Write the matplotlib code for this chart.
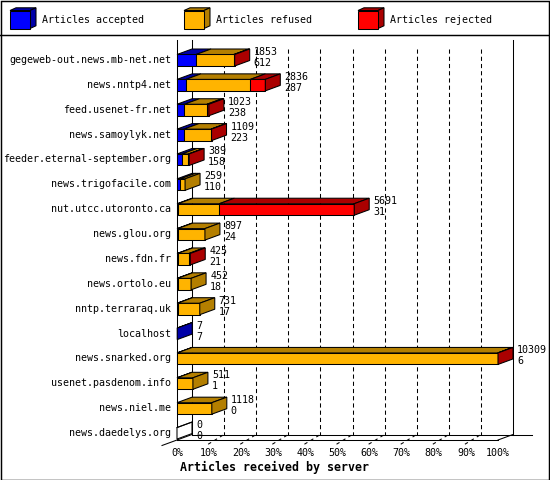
import numpy as np
import matplotlib
matplotlib.use("Agg")
import matplotlib.pyplot as plt
from matplotlib.patches import Polygon, Rectangle
from matplotlib.lines import Line2D

# Données : serveurs, total reçu, acceptés, refusés, rejetés
servers = ["gegeweb-out.news.mb-net.net", "news.nntp4.net", "feed.usenet-fr.net",
           "news.samoylyk.net", "feeder.eternal-september.org", "news.trigofacile.com",
           "nut.utcc.utoronto.ca", "news.glou.org", "news.fdn.fr", "news.ortolo.eu",
           "nntp.terraraq.uk", "localhost", "news.snarked.org", "usenet.pasdenom.info",
           "news.niel.me", "news.daedelys.org"]
total = [1853, 2836, 1023, 1109, 389, 259, 5691, 897, 425, 452, 731, 7, 10309, 511, 1118, 0]
accepted = [612, 287, 238, 223, 158, 110, 31, 24, 21, 18, 17, 7, 6, 1, 0, 0]
refused = [1211, 2069, 725, 869, 210, 149, 1327, 873, 364, 434, 714, 0, 10293, 510, 1118, 0]
rejected = [t - a - r for t, a, r in zip(total, accepted, refused)]
pct_ticks = [0, 10, 20, 30, 40, 50, 60, 70, 80, 90, 100]

series = ["Articles accepted", "Articles refused", "Articles rejected"]
fronts = ["#0000ff", "#ffb400", "#ff0000"]
darks = ["#0000a8", "#b47f00", "#aa0000"]

plt.rcParams["lines.scale_dashes"] = False
MONO = "DejaVu Sans Mono"
FS = 7.2
LW = 0.75

fig = plt.figure(figsize=(5.5, 4.8), dpi=100)
fig.patch.set_facecolor("white")

# axes = face avant du graphe : x de 0 à 100 %, y en rangs
ROW = 24.87
ax = fig.add_axes([177 / 550, 40 / 480, 321 / 550, 400 / 480])
ymin, ymax = (40 - 60) / ROW, (440 - 60) / ROW
ax.set_xlim(0, 100)
ax.set_ylim(ymax, ymin)
ax.axis("off")

PXX = 321 / 100.0
DX = 15 / PXX
DY = 5.5 / ROW
floor_f = ymax
floor_b = ymax - DY

def line(xs, ys, **kw):
    ax.add_line(Line2D(xs, ys, color="black", lw=LW, clip_on=False, zorder=1, **kw))

# cadre 3D
line([0, 0], [ymin, floor_f])
line([DX, DX], [ymin, floor_b])
line([100 + DX, 100 + DX], [ymin, floor_b])
line([DX, (532 - 177) / PXX], [floor_b, floor_b])
line([0, 100], [floor_f, floor_f])
line([-DX, DX], [floor_f + DY, floor_b])
line([100, 100 + DX], [floor_f, floor_b])
for p in pct_ticks[1:-1]:
    line([p + DX, p + DX], [(49 - 60) / ROW, floor_b], dashes=(3.0, 2.2))
    line([p - 0.3, p + DX], [floor_f + 0.17, floor_b], dashes=(2.5, 2.5))
for p in pct_ticks:
    ax.text(p, (453 - 60) / ROW, f"{p}%", ha="center", va="center",
            family=MONO, fontsize=FS, clip_on=False)
ax.text(1, (467 - 60) / ROW, "Articles received by server", ha="left", va="center",
        family=MONO, fontsize=8.4, fontweight="bold", clip_on=False)

top_off = 5.5 / ROW
bot_off = 6.0 / ROW
vmax = max(total)
for i, name in enumerate(servers):
    vals = [accepted[i], refused[i], rejected[i]]
    t, b = i - top_off, i + bot_off
    x0 = 0.0
    last = None
    for k, v in enumerate(vals):
        if v <= 0:
            continue
        w = v / vmax * 100
        x1 = x0 + w
        ax.add_patch(Polygon([(x0, t), (x1, t), (x1, b), (x0, b)], closed=True,
                             fc=fronts[k], ec="black", lw=LW, clip_on=False, zorder=2))
        ax.add_patch(Polygon([(x0, t), (x1, t), (x1 + DX, t - DY), (x0 + DX, t - DY)],
                             closed=True, fc=darks[k], ec="black", lw=LW, clip_on=False,
                             zorder=2))
        x0 = x1
        last = k
    side_c = darks[last] if last is not None else "white"
    ax.add_patch(Polygon([(x0, t), (x0, b), (x0 + DX, b - DY), (x0 + DX, t - DY)],
                         closed=True, fc=side_c, ec="black", lw=LW, clip_on=False, zorder=2))
    if last is None:
        ax.add_line(Line2D([x0, x0 + DX], [t, t - DY], color="black", lw=LW,
                           clip_on=False, zorder=2))
    ax.text(-5.5 / PXX, i, name, ha="right", va="center", family=MONO,
            fontsize=FS, clip_on=False, zorder=3)
    xl = x0 + DX + 4 / PXX
    ax.text(xl, i - 8 / ROW, str(total[i]), ha="left", va="center", family=MONO,
            fontsize=FS, clip_on=False, zorder=3)
    ax.text(xl, i + 3 / ROW, str(accepted[i]), ha="left", va="center", family=MONO,
            fontsize=FS, clip_on=False, zorder=3)

# légende en haut (coordonnées pixels de la figure)
pix = fig.transFigure
def P(x, y):
    return (x / 550, 1 - y / 480)

for k, (lab, x) in enumerate(zip(series, [10, 184, 358])):
    f = [P(x, 10.5), P(x + 20, 10.5), P(x + 20, 28.5), P(x, 28.5)]
    s = [P(x + 20, 10.5), P(x + 26, 7.8), P(x + 26, 25.8), P(x + 20, 28.5)]
    tp = [P(x, 10.5), P(x + 6, 7.8), P(x + 26, 7.8), P(x + 20, 10.5)]
    fig.patches.append(Polygon(tp, closed=True, fc=darks[k], ec="black", lw=LW, transform=pix))
    fig.patches.append(Polygon(s, closed=True, fc=darks[k], ec="black", lw=LW, transform=pix))
    fig.patches.append(Polygon(f, closed=True, fc=fronts[k], ec="black", lw=LW, transform=pix))
    fig.text(*P(x + 32, 20), lab, ha="left", va="center", family=MONO, fontsize=FS)

fig.lines.append(Line2D([0, 1], [1 - 34.5 / 480] * 2, color="black", lw=LW * 1.4, transform=pix))
fig.patches.append(Rectangle((0.001, 0.001), 0.997, 0.997, fill=False, ec="black",
                             lw=LW * 1.4, transform=pix))

fig.savefig("out.png", dpi=100)
